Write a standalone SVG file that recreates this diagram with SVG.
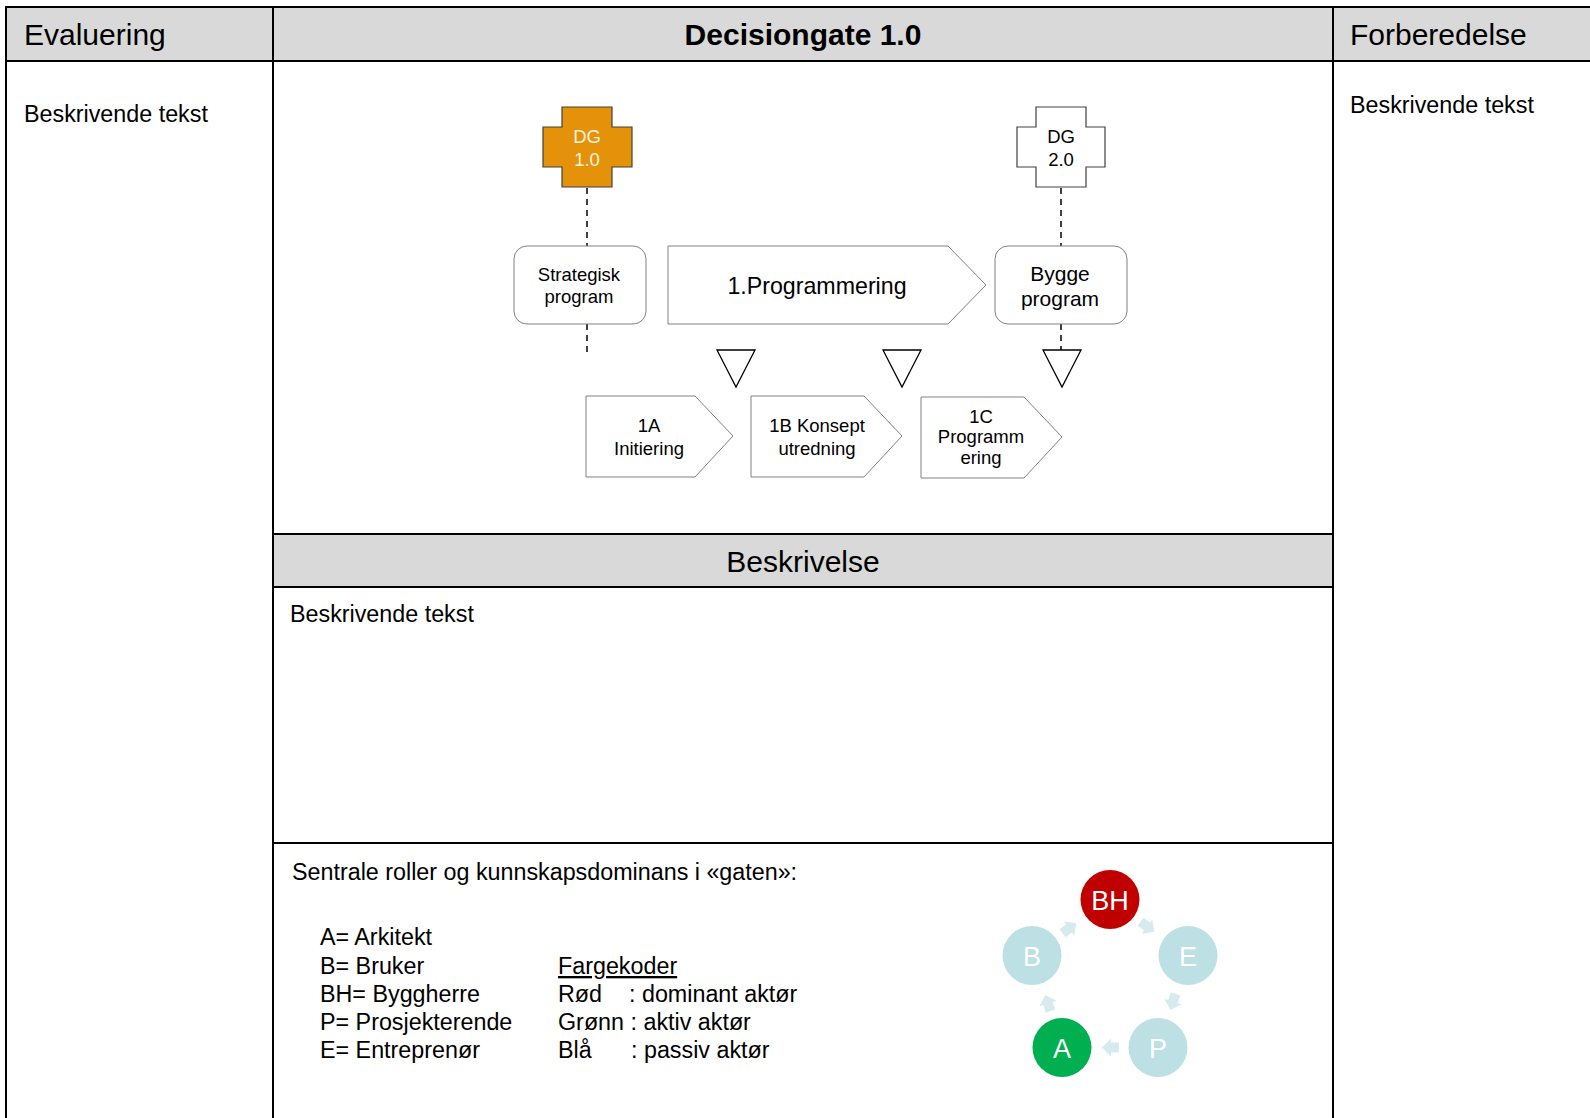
<svg xmlns="http://www.w3.org/2000/svg" width="1590" height="1118" viewBox="0 0 1590 1118">
<style>
text{font-family:"Liberation Sans",Arial,sans-serif;fill:#000}
.hdr{fill:#D9D9D9;stroke:none}
.ln{stroke:#000;stroke-width:2;fill:none}
.box{fill:#fff;stroke:#808080;stroke-width:1}
.dash{stroke:#000;stroke-width:1.5;stroke-dasharray:6,5;fill:none}
.t17{font-size:18.5px;text-anchor:middle}
.t28{font-size:30px}
.t23{font-size:23.3px}
.circ{font-size:27px;fill:#fff;text-anchor:middle}
.carrow{fill:#D5EBEE}
</style>
<defs>
<polygon id="ca" points="-8,-5 0,-5 0,-9 9,0 0,9 0,5 -8,5"/>
</defs>
<rect x="0" y="0" width="1590" height="1118" fill="#fff"/>
<g id="table">
<rect class="hdr" x="6" y="7" width="1584" height="54"/>
<rect class="hdr" x="273" y="534" width="1060" height="53"/>
<line class="ln" x1="6" y1="7" x2="1590" y2="7"/>
<line class="ln" x1="6" y1="61" x2="1590" y2="61"/>
<line class="ln" x1="6" y1="6" x2="6" y2="1118"/>
<line class="ln" x1="273" y1="7" x2="273" y2="1118"/>
<line class="ln" x1="1333" y1="7" x2="1333" y2="1118"/>
<line class="ln" x1="273" y1="534" x2="1333" y2="534"/>
<line class="ln" x1="273" y1="587" x2="1333" y2="587"/>
<line class="ln" x1="273" y1="843" x2="1333" y2="843"/>
<text class="t28" x="24" y="45">Evaluering</text>
<text x="803" y="45" font-size="30" font-weight="bold" text-anchor="middle">Decisiongate 1.0</text>
<text class="t28" x="1350" y="45">Forberedelse</text>
<text class="t23" x="24" y="122">Beskrivende tekst</text>
<text class="t23" x="1350" y="113">Beskrivende tekst</text>
<text x="803" y="572" font-size="30" text-anchor="middle">Beskrivelse</text>
<text class="t23" x="290" y="622">Beskrivende tekst</text>
</g>
<g id="connectors">
<line class="dash" x1="587" y1="188" x2="587" y2="246"/>
<line class="dash" x1="587" y1="324" x2="587" y2="356"/>
<line class="dash" x1="1061" y1="188" x2="1061" y2="246"/>
<line class="dash" x1="1061" y1="324" x2="1061" y2="350"/>
</g>
<g id="dg1">
<polygon points="562,107 612,107 612,127 632,127 632,167 612,167 612,187 562,187 562,167 543,167 543,127 562,127" fill="#E39209" stroke="#404040" stroke-width="1.2"/>
<text x="587" y="143" font-size="18.5" text-anchor="middle" style="fill:#FFF2DC">DG</text>
<text x="587" y="166" font-size="18.5" text-anchor="middle" style="fill:#FFF2DC">1.0</text>
</g>
<g id="dg2">
<polygon points="1036,107 1086,107 1086,127 1105,127 1105,167 1086,167 1086,187 1036,187 1036,167 1017,167 1017,127 1036,127" fill="#fff" stroke="#404040" stroke-width="1.2"/>
<text x="1061" y="143" font-size="18.5" text-anchor="middle">DG</text>
<text x="1061" y="166" font-size="18.5" text-anchor="middle">2.0</text>
</g>
<g id="strategisk">
<rect class="box" x="514" y="246" width="132" height="78" rx="13"/>
<text class="t17" x="579" y="281">Strategisk</text>
<text class="t17" x="579" y="303">program</text>
</g>
<g id="programmering">
<polygon class="box" points="668,246 948,246 986,285 948,324 668,324"/>
<text x="817" y="294" font-size="23.2" text-anchor="middle">1.Programmering</text>
</g>
<g id="bygge">
<rect class="box" x="995" y="246" width="132" height="78" rx="13"/>
<text x="1060" y="281" font-size="21" text-anchor="middle">Bygge</text>
<text x="1060" y="306" font-size="21" text-anchor="middle">program</text>
</g>
<g id="tri1"><polygon points="717,350 755,350 736,387" fill="#fff" stroke="#000" stroke-width="1.3"/></g>
<g id="tri2"><polygon points="883,350 921,350 902,387" fill="#fff" stroke="#000" stroke-width="1.3"/></g>
<g id="tri3"><polygon points="1043,350 1081,350 1062,387" fill="#fff" stroke="#000" stroke-width="1.3"/></g>
<g id="p1a">
<polygon class="box" points="586,396 695,396 733,436 695,477 586,477"/>
<text class="t17" x="649" y="432">1A</text>
<text class="t17" x="649" y="455">Initiering</text>
</g>
<g id="p1b">
<polygon class="box" points="751,396 864,396 902,436 864,477 751,477"/>
<text class="t17" x="817" y="432">1B Konsept</text>
<text class="t17" x="817" y="455">utredning</text>
</g>
<g id="p1c">
<polygon class="box" points="921,397 1024,397 1062,437 1024,478 921,478"/>
<text class="t17" x="981" y="423">1C</text>
<text class="t17" x="981" y="443">Programm</text>
<text class="t17" x="981" y="464">ering</text>
</g>
<g id="roles">
<text class="t23" x="292" y="880">Sentrale roller og kunnskapsdominans i «gaten»:</text>
<text class="t23" x="320" y="945">A= Arkitekt</text>
<text class="t23" x="320" y="974">B= Bruker</text>
<text class="t23" x="320" y="1002">BH= Byggherre</text>
<text class="t23" x="320" y="1030">P= Prosjekterende</text>
<text class="t23" x="320" y="1058">E= Entreprenør</text>
<text class="t23" x="558" y="974" text-decoration="underline">Fargekoder</text>
<text class="t23" x="558" y="1002">Rød</text>
<text class="t23" x="629" y="1002">: dominant aktør</text>
<text class="t23" x="558" y="1030">Grønn : aktiv aktør</text>
<text class="t23" x="558" y="1058">Blå</text>
<text class="t23" x="631" y="1058">: passiv aktør</text>
</g>
<g id="cycle-arrows">
<use href="#ca" class="carrow" transform="translate(1069,928.5) rotate(-36)"/>
<use href="#ca" class="carrow" transform="translate(1147,926.5) rotate(36)"/>
<use href="#ca" class="carrow" transform="translate(1173,1001.5) rotate(108)"/>
<use href="#ca" class="carrow" transform="translate(1111,1047.5) rotate(180)"/>
<use href="#ca" class="carrow" transform="translate(1048,1003.5) rotate(-108)"/>
</g>
<g id="bh"><circle cx="1110" cy="899.5" r="29.5" fill="#C00000"/><text class="circ" x="1110" y="909.5">BH</text></g>
<g id="e"><circle cx="1188" cy="955.5" r="29.5" fill="#BCE0E4"/><text class="circ" x="1188" y="965.5">E</text></g>
<g id="p"><circle cx="1158" cy="1047.5" r="29.5" fill="#BCE0E4"/><text class="circ" x="1158" y="1057.5">P</text></g>
<g id="a"><circle cx="1062" cy="1047.5" r="29.5" fill="#00B050"/><text class="circ" x="1062" y="1057.5">A</text></g>
<g id="b"><circle cx="1032" cy="955.5" r="29.5" fill="#BCE0E4"/><text class="circ" x="1032" y="965.5">B</text></g>
</svg>
